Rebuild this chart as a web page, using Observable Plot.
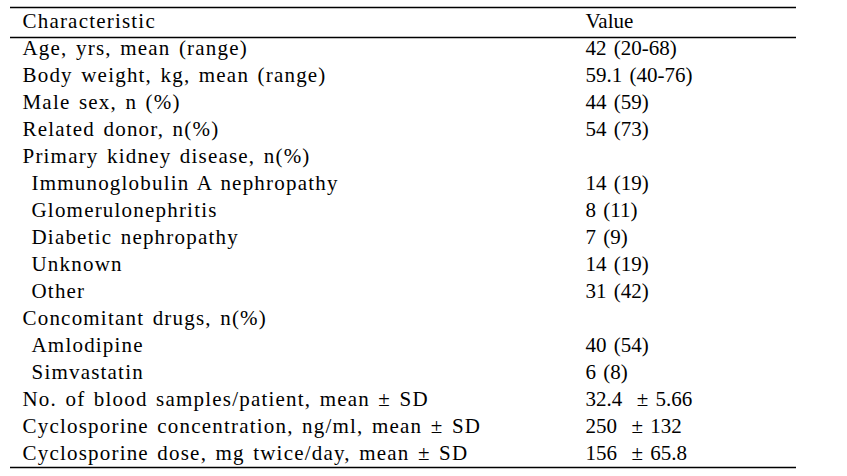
<!DOCTYPE html>
<html><head><meta charset="utf-8">
<script src="https://cdn.jsdelivr.net/npm/d3@7"></script>
<script src="https://cdn.jsdelivr.net/npm/@observablehq/plot@0.6"></script>
<style>
body{margin:0;background:#fff}
</style>
</head><body><div id="chart"></div>
<script>
const headers = ["Characteristic", "Value"];
const characteristics = [
  "Age, yrs, mean (range)",
  "Body weight, kg, mean (range)",
  "Male sex, n (%)",
  "Related donor, n(%)",
  "Primary kidney disease, n(%)",
  "Immunoglobulin A nephropathy",
  "Glomerulonephritis",
  "Diabetic nephropathy",
  "Unknown",
  "Other",
  "Concomitant drugs, n(%)",
  "Amlodipine",
  "Simvastatin",
  "No. of blood samples/patient, mean \u00b1 SD",
  "Cyclosporine concentration, ng/ml, mean \u00b1 SD",
  "Cyclosporine dose, mg twice/day, mean \u00b1 SD"
];
const values = [
  "42 (20-68)",
  "59.1 (40-76)",
  "44 (59)",
  "54 (73)",
  "",
  "14 (19)",
  "8 (11)",
  "7 (9)",
  "14 (19)",
  "31 (42)",
  "",
  "40 (54)",
  "6 (8)",
  "32.4  \u00b1 5.66",
  "250  \u00b1 132",
  "156  \u00b1 65.8"
];
const indented = [false,false,false,false,false,true,true,true,true,true,false,true,true,false,false,false];

const rows = characteristics.map((c, i) => ({row: i + 1, label: c, value: values[i], indented: indented[i]}));
const headerRow = [{row: 0, label: headers[0], value: headers[1]}];

const common = {fill: "black", fontSize: 21, fontFamily: "Liberation Serif", textAnchor: "start", lineAnchor: "middle"};

const chart = Plot.plot({
  width: 847,
  height: 476,
  margin: 0,
  style: {background: "#fff", whiteSpace: "pre", wordSpacing: "2px", letterSpacing: "1.2px"},
  x: {type: "point", domain: ["label", "value"], range: [22, 585], padding: 0, axis: null},
  y: {type: "point", domain: d3.range(0, 17), range: [20, 453], padding: 0, axis: null},
  marks: [
    Plot.ruleY([0], {y: d => d, dy: -14, stroke: "black", strokeWidth: 1.3, insetLeft: 10, insetRight: 51}),
    Plot.ruleY([0], {y: d => d, dy: 16, stroke: "black", strokeWidth: 1.3, insetLeft: 10, insetRight: 51}),
    Plot.ruleY([16], {y: d => d, dy: 14, stroke: "black", strokeWidth: 1.3, insetLeft: 10, insetRight: 51}),
    Plot.text(headerRow, {x: () => "label", y: "row", text: "label", ...common}),
    Plot.text(headerRow, {x: () => "value", y: "row", text: "value", ...common}),
    Plot.text(rows.filter(d => !d.indented), {x: () => "label", y: "row", text: "label", ...common}),
    Plot.text(rows.filter(d => d.indented), {x: () => "label", y: "row", text: "label", dx: 9, ...common}),
    Plot.text(rows, {x: () => "value", y: "row", text: "value", ...common})
  ]
});
const valueSet = new Set([...values.filter(v => v), headers[1]]);
d3.select(chart).selectAll("text")
  .filter(function() { return valueSet.has(this.textContent); })
  .style("letter-spacing", "0px")
  .style("word-spacing", "2px");
document.getElementById("chart").appendChild(chart);
</script>
</body></html>
